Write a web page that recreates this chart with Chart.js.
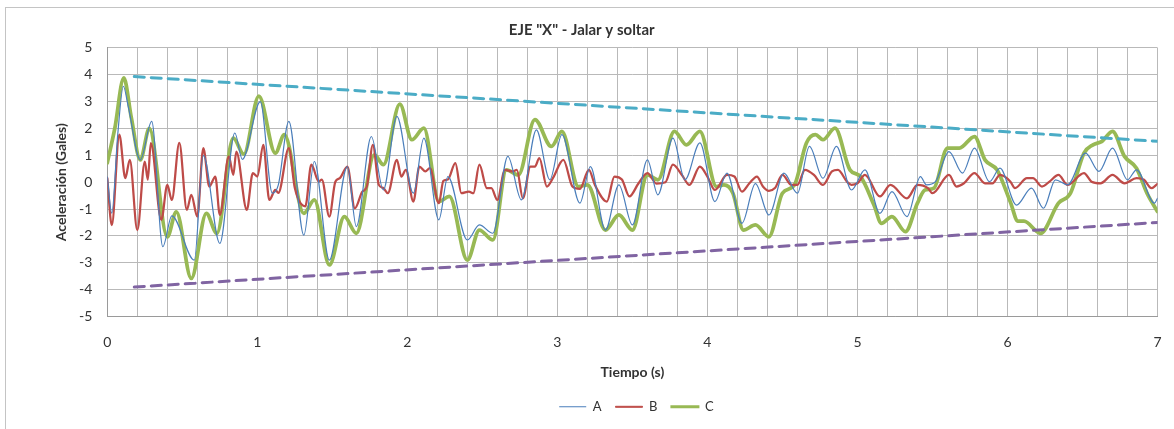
<!DOCTYPE html>
<html>
<head>
<meta charset="utf-8">
<script src="https://cdn.jsdelivr.net/npm/chart.js@4/dist/chart.umd.min.js"></script>
<style>
  html, body { margin: 0; padding: 0; background: #fff; }
  canvas { display: block; }
</style>
</head>
<body>
<canvas id="myChart" width="1174" height="429"></canvas>
<script>
// --- Data (tiempo en s, aceleración en gales) ---
const tA = [0.00, 0.03, 0.07, 0.107, 0.14, 0.22, 0.296, 0.37, 0.43, 0.58, 0.64, 0.75, 0.85, 0.90, 1.02,
    1.10, 1.14, 1.21, 1.31, 1.38, 1.48, 1.60, 1.66, 1.76, 1.84, 1.93, 2.04, 2.11, 2.21, 2.27, 2.40, 2.48,
    2.57, 2.67, 2.76, 2.86, 2.95, 3.03, 3.15, 3.22, 3.32, 3.41, 3.50, 3.60, 3.67, 3.77, 3.85, 3.95, 4.05,
    4.13, 4.23, 4.32, 4.41, 4.51, 4.60, 4.68, 4.77, 4.86, 4.96, 5.05, 5.15, 5.23, 5.33, 5.42, 5.46, 5.52,
    5.61, 5.70, 5.78, 5.88, 5.95, 6.06, 6.16, 6.24, 6.32, 6.40, 6.52, 6.61, 6.70, 6.80, 6.86, 6.98, 7.00]
const yA = [0.2, -1.15, 1.8, 3.57, 2.8, 0.83, 2.26, -2.4, -1.25, -2.9, 1.0, -2.28, 1.83, 0.85, 3.0,
    -0.41, -0.1, 2.26, -1.97, 0.77, -2.9, 0.58, -1.65, 1.7, -0.29, 2.45, -0.41, 1.64, -1.4, 0.21, -2.15, -1.59,
    -1.9, 0.96, -0.66, 1.95, 0.09, 1.77, -0.78, 0.58, -1.78, -0.1, -1.59, 0.83, -0.47, 1.64, 0.09, 1.46, -0.72,
    0.34, -1.53, -0.05, -1.22, 0.34, -0.41, 1.33, 0.15, 1.33, -0.29, 0.46, -1.16, -0.35, -1.28, 0.21, -0.1, 0.02,
    1.14, 0.34, 1.27, 0.02, 0.52, -0.85, -0.22, -0.97, 0.09, -0.1, 1.08, 0.4, 1.27, 0.09, 0.46, -0.78, -0.6]

const tB = [0.00, 0.03, 0.08, 0.12, 0.15, 0.20, 0.25, 0.27, 0.29, 0.36, 0.40, 0.43, 0.48, 0.53, 0.56, 0.60,
    0.64, 0.68, 0.72, 0.75, 0.81, 0.84, 0.86, 0.93, 0.97, 1.00, 1.04, 1.08, 1.12, 1.14, 1.21, 1.25, 1.32,
    1.36, 1.41, 1.43, 1.48, 1.52, 1.55, 1.60, 1.65, 1.70, 1.73, 1.77, 1.81, 1.84, 1.87, 1.93, 1.96, 1.99,
    2.04, 2.08, 2.12, 2.15, 2.21, 2.24, 2.27, 2.32, 2.36, 2.41, 2.44, 2.48, 2.53, 2.56, 2.60, 2.65, 2.70,
    2.73, 2.77, 2.82, 2.85, 2.88, 2.93, 2.97, 3.04, 3.10, 3.15, 3.21, 3.25, 3.33, 3.38, 3.43, 3.48, 3.54,
    3.60, 3.66, 3.72, 3.77, 3.83, 3.88, 3.95, 4.00, 4.05, 4.13, 4.18, 4.23, 4.28, 4.33, 4.37, 4.41, 4.45,
    4.50, 4.56, 4.60, 4.65, 4.71, 4.77, 4.83, 4.87, 4.93, 4.96, 5.00, 5.05, 5.15, 5.22, 5.33, 5.40, 5.47,
    5.50, 5.61, 5.66, 5.71, 5.78, 5.85, 5.90, 5.95, 6.02, 6.05, 6.13, 6.17, 6.23, 6.28, 6.34, 6.40, 6.51,
    6.56, 6.62, 6.70, 6.78, 6.86, 6.91, 6.96, 7.00]
const yB = [0.15, -1.6, 1.77, 0.15, 0.83, -1.78, 0.77, 0.1, 1.45, -1.4, -0.1, -0.66, 1.46, -1.03, -0.47, -1.28,
    1.27, -0.16, 0.21, -1.22, 0.96, 0.27, 1.14, -1.03, 0.34, 0.21, 1.39, -0.66, -0.29, -0.4, 1.27, -0.22, -0.9,
    0.65, 0.02, 0.1, -1.28, 0.02, 0.15, 0.58, -0.97, -0.35, -0.16, 1.39, -0.1, -0.22, -0.41, 0.83, 0.21, 0.46,
    -0.72, 0.58, 0.4, 0.52, -0.78, 0.05, 0.1, 0.71, -0.41, -0.35, -0.41, 0.65, -0.22, -0.22, -0.66, 0.46, 0.4,
    0.46, -0.6, 0.58, 0.58, 0.9, -0.16, 0.15, 0.83, -0.16, -0.25, 0.46, -0.1, -0.72, 0.21, 0.1, -0.53, -0.05,
    0.34, -0.05, 0.0, 0.65, 0.27, -0.1, 0.58, 0.21, -0.29, 0.27, 0.21, -0.35, -0.04, 0.21, -0.16, -0.32, -0.22,
    0.27, -0.1, -0.1, 0.46, 0.27, -0.1, 0.4, 0.46, 0.02, -0.1, -0.04, 0.27, -0.53, -0.1, -0.6, -0.1, -0.22,
    -0.41, 0.27, -0.16, -0.04, 0.34, -0.04, -0.04, 0.27, 0.02, -0.22, 0.15, 0.15, -0.16, 0.02, 0.27, -0.1, 0.34,
    0.02, -0.04, 0.27, -0.04, 0.15, 0.09, -0.22, -0.06]

const tC = [0.00, 0.05, 0.11, 0.16, 0.22, 0.28, 0.40, 0.46, 0.56, 0.66, 0.73, 0.84, 0.91, 1.01, 1.12, 1.18,
    1.31, 1.38, 1.48, 1.58, 1.66, 1.78, 1.84, 1.95, 2.03, 2.11, 2.21, 2.28, 2.40, 2.48, 2.57, 2.66, 2.74,
    2.85, 2.96, 3.03, 3.14, 3.20, 3.32, 3.41, 3.50, 3.60, 3.67, 3.78, 3.86, 3.95, 4.06, 4.11, 4.17, 4.24,
    4.32, 4.41, 4.50, 4.58, 4.66, 4.72, 4.77, 4.85, 4.95, 5.02, 5.11, 5.16, 5.23, 5.32, 5.40, 5.45, 5.51,
    5.60, 5.68, 5.78, 5.85, 5.93, 6.02, 6.07, 6.11, 6.22, 6.34, 6.42, 6.51, 6.57, 6.63, 6.70, 6.78, 6.86,
    6.93, 7.00]
const yC = [0.72, 2.0, 3.88, 2.4, 0.83, 2.0, -2.03, -1.1, -3.58, -1.16, -1.9, 1.64, 1.04, 3.2, 1.08, 1.77,
    -1.16, -0.66, -3.08, -1.28, -1.9, 1.02, 0.65, 2.9, 1.58, 2.01, -0.72, -0.53, -2.9, -1.78, -2.15, 0.46, 0.27,
    2.33, 1.33, 1.89, -0.16, -0.1, -1.78, -1.22, -1.78, 0.27, 0.09, 1.89, 1.39, 1.89, -0.16, -0.1, -0.41, -1.78,
    -1.59, -2.03, -0.41, -0.1, 1.46, 1.77, 1.58, 2.01, 0.46, 0.21, -0.85, -1.53, -1.28, -1.84, -0.78, -0.29, -0.22,
    1.27, 1.27, 1.7, 0.83, 0.46, -0.75, -1.45, -1.45, -1.9, -0.78, -0.41, 1.08, 1.39, 1.52, 1.89, 0.96, 0.52,
    -0.41, -1.09]

// envolventes (líneas de tendencia)
const tTrend = [0.18, 7]
const yUpper = [3.93, 1.52]
const yLower = [-3.9, -1.5]

const fontName = 'Lato'
const textColor = '#333333'
const gridColor = '#b9b9b9'

// --- Helpers ---
function pts(t, y) {
    return t.map((v, i) => ({ x: v, y: y[i] }))
}

// marco exterior del gráfico
const frame = {
    id: 'frame',
    beforeDraw(chart) {
        const c = chart.ctx
        c.save()
        c.fillStyle = '#ffffff'
        c.fillRect(0, 0, chart.width, chart.height)
        c.strokeStyle = '#c4c4c4'
        c.lineWidth = 1
        c.strokeRect(5.5, 7.5, chart.width + 10, chart.height + 10)
        c.restore()
    }
}

// leyenda un poco a la derecha del centro
const legendShift = {
    id: 'legendShift',
    afterLayout(chart) {
        chart.legend.left += 4
        chart.legend.right += 4
    }
}

// --- Chart ---
const ctx = document.getElementById('myChart').getContext('2d')

const myChart = new Chart(ctx, {
    type: 'line',
    data: {
        datasets: [
            { label: 'A', data: pts(tA, yA), borderColor: '#4a7ebb', borderWidth: 1.2, order: 1 },
            { label: 'B', data: pts(tB, yB), borderColor: '#be4b48', borderWidth: 2.25, order: 2 },
            { label: 'C', data: pts(tC, yC), borderColor: '#98b954', borderWidth: 3.75, order: 3 },
            { label: 'sup', data: pts(tTrend, yUpper), borderColor: '#4bacc6', borderWidth: 3, borderDash: [10, 7], order: 0 },
            { label: 'inf', data: pts(tTrend, yLower), borderColor: '#8064a2', borderWidth: 3, borderDash: [10, 7], order: 0 }
        ]
    },
    options: {
        responsive: false,
        animation: false,
        devicePixelRatio: 1,
        elements: {
            point: { radius: 0 },
            line: { cubicInterpolationMode: 'monotone', borderCapStyle: 'round', borderJoinStyle: 'round' }
        },
        layout: { padding: { left: 6, right: 16.5, top: 8, bottom: 5.7 } },
        plugins: {
            tooltip: { enabled: false },
            title: {
                display: true,
                text: 'EJE "X" - Jalar y soltar',
                color: textColor,
                font: { family: fontName, size: 15, weight: 'bold' },
                padding: { top: 13.5, bottom: 8.3 }
            },
            legend: {
                position: 'bottom',
                fullSize: false,
                labels: {
                    color: textColor,
                    font: { family: fontName, size: 13 },
                    boxWidth: 27,
                    boxHeight: 1,
                    padding: 14,
                    generateLabels(chart) {
                        const widths = [0, 1, 2]
                        return chart.data.datasets.slice(0, 3).map((ds, i) => ({
                            text: ds.label,
                            fillStyle: ds.borderColor,
                            strokeStyle: ds.borderColor,
                            lineWidth: widths[i],
                            fontColor: textColor,
                            datasetIndex: i
                        }))
                    }
                }
            }
        },
        scales: {
            x: {
                type: 'linear',
                min: 0,
                max: 7,
                afterFit: s => { s.height = 69.7 },
                border: { color: '#9a9a9a' },
                // marcas invisibles: solo separan las etiquetas del eje
                grid: { color: gridColor, drawTicks: true, tickLength: 17, tickColor: 'rgba(0,0,0,0)' },
                ticks: {
                    stepSize: 0.2,
                    autoSkip: false,
                    maxRotation: 0,
                    padding: 0,
                    color: textColor,
                    font: { family: fontName, size: 14 },
                    callback: v => Math.abs(v - Math.round(v)) < 1e-6 ? String(Math.round(v)) : ''
                },
                title: {
                    display: true,
                    text: 'Tiempo (s)',
                    color: textColor,
                    font: { family: fontName, size: 14, weight: 'bold' },
                    padding: { top: 0, bottom: 5.1 }
                }
            },
            y: {
                min: -5,
                max: 5,
                afterFit: s => { s.width = 101.3 },
                border: { color: '#9a9a9a' },
                grid: { color: gridColor, drawTicks: false },
                ticks: {
                    stepSize: 1,
                    padding: 15,
                    color: textColor,
                    font: { family: fontName, size: 14 }
                },
                title: {
                    display: true,
                    text: 'Aceleración (Gales)',
                    color: textColor,
                    font: { family: fontName, size: 14, weight: 'bold' },
                    padding: { top: 46.6, bottom: 0 }
                }
            }
        }
    },
    plugins: [frame, legendShift]
})
</script>
</body>
</html>
